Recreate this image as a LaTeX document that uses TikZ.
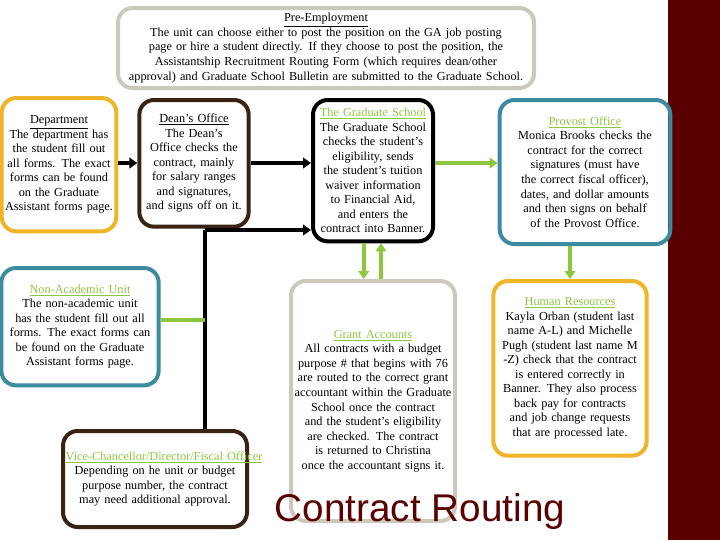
\documentclass[tikz,border=0pt]{standalone}
\usepackage{fontspec}
\setmainfont{Liberation Serif}
\newfontfamily\headfont{Liberation Sans}
\usetikzlibrary{arrows.meta,positioning}
\definecolor{boxorange}{HTML}{F0B429}
\definecolor{boxbrown}{HTML}{3B2314}
\definecolor{boxteal}{HTML}{3C8BA0}
\definecolor{boxgray}{HTML}{CDC8BC}
\definecolor{titlegreen}{HTML}{8DC63F}
\definecolor{sidered}{HTML}{5A0000}
\newcommand{\gtitle}[1]{\textcolor{titlegreen}{\underline{#1}}}
\newcommand{\btitle}[1]{\underline{#1}}
\hyphenpenalty=10000
\exhyphenpenalty=10000
\begin{document}
\begin{tikzpicture}[
  x=0.75pt, y=-0.75pt,
  box/.style={draw, line width=3pt, rounded corners=11pt, align=center,
    inner sep=1pt, anchor=north, font=\fontsize{9.2}{10.9}\selectfont},
  flow/.style={line width=3pt, -{Triangle[length=6pt,width=8pt]}},
  gflow/.style={flow, draw=titlegreen},
  >=Latex
]
\useasboundingbox (0,0) rectangle (720,540);
\fill[sidered] (668,0) rectangle (720,540);

% --- Boxes ---
\node[box, draw=boxgray, minimum width=312pt, minimum height=60pt, text width=306pt] (pre) at (326,6)
  {\btitle{Pre-Employment}\\The unit can choose either to post the position on the GA job posting page or hire a student directly. If they choose to post the position, the Assistantship Recruitment Routing Form (which requires dean/other approval) and Graduate School Bulletin are submitted to the Graduate School.};

\node[box, draw=boxorange, minimum width=86pt, minimum height=100pt, text width=84pt] (dept) at (59,96)
  {\btitle{Department}\\The department has the student fill out all forms. The exact forms can be found on the Graduate Assistant forms page.};

\node[box, draw=boxbrown, minimum width=82pt, minimum height=95pt, text width=78pt] (dean) at (194,98)
  {\btitle{Dean's Office}\\The Dean's Office checks the contract, mainly for salary ranges and signatures, and signs off on it.};

\node[box, draw=black, minimum width=89pt, minimum height=106pt, text width=88pt] (grad) at (373,98)
  {\gtitle{The Graduate School}\\The Graduate School checks the student's eligibility, sends the student's tuition waiver information to Financial Aid, and enters the contract into Banner.};

\node[box, draw=boxteal, minimum width=128pt, minimum height=108pt, text width=118pt] (prov) at (585,98)
  {\gtitle{Provost Office}\\Monica Brooks checks the contract for the correct signatures (must have the correct fiscal officer), dates, and dollar amounts and then signs on behalf of the Provost Office.};

\node[box, draw=boxteal, minimum width=118pt, minimum height=88pt, text width=106pt] (nonacad) at (80,266)
  {\gtitle{Non-Academic Unit}\\The non-academic unit has the student fill out all forms. The exact forms can be found on the Graduate Assistant forms page.};

\node[box, draw=boxbrown, minimum width=138pt, minimum height=72pt, text width=134pt] (vice) at (155,429)
  {\gtitle{Vice-Chancellor/Director/Fiscal Officer}\\Depending on he unit or budget purpose number, the contract may need additional approval.};

\node[box, draw=boxgray, minimum width=123pt, minimum height=180pt, text width=118pt] (grant) at (373,279)
  {\gtitle{Grant Accounts}\\All contracts with a budget purpose \# that begins with 76 are routed to the correct grant accountant within the Graduate School once the contract and the student's eligibility are checked. The contract is returned to Christina once the accountant signs it.};

\node[box, draw=boxorange, minimum width=115pt, minimum height=131pt, text width=110pt] (hr) at (570,279)
  {\gtitle{Human Resources}\\Kayla Orban (student last name A-L) and Michelle Pugh (student last name M -Z) check that the contract is entered correctly in Banner. They also process back pay for contracts and job change requests that are processed late.};

\node[text=sidered, font=\headfont\fontsize{29}{32}\selectfont, inner sep=0pt] (title) at (420,511) {Contract Routing};

% --- Connectors ---
\coordinate (jtop) at (205,230);
\coordinate (jmid) at (205,320);
\draw[flow] (dept.east |- 0,163) -- (dean.west |- 0,163);
\draw[flow] (dean.east |- 0,163) -- (grad.west |- 0,163);
\draw[gflow] (grad.east |- 0,163) -- (prov.west |- 0,163);
\draw[line width=3pt] (vice.north -| jtop) -- (jtop);
\draw[flow] (jtop) -- (grad.west |- jtop);
\draw[line width=3pt, draw=titlegreen] (nonacad.east |- jmid) -- (jmid);
\draw[gflow] ([xshift=-7pt]grad.south) -- ([xshift=-7pt]grant.north);
\draw[gflow] ([xshift=6pt]grant.north) -- ([xshift=6pt]grad.south);
\draw[gflow] (prov.south -| hr.north) -- (hr.north);
\end{tikzpicture}
\end{document}
